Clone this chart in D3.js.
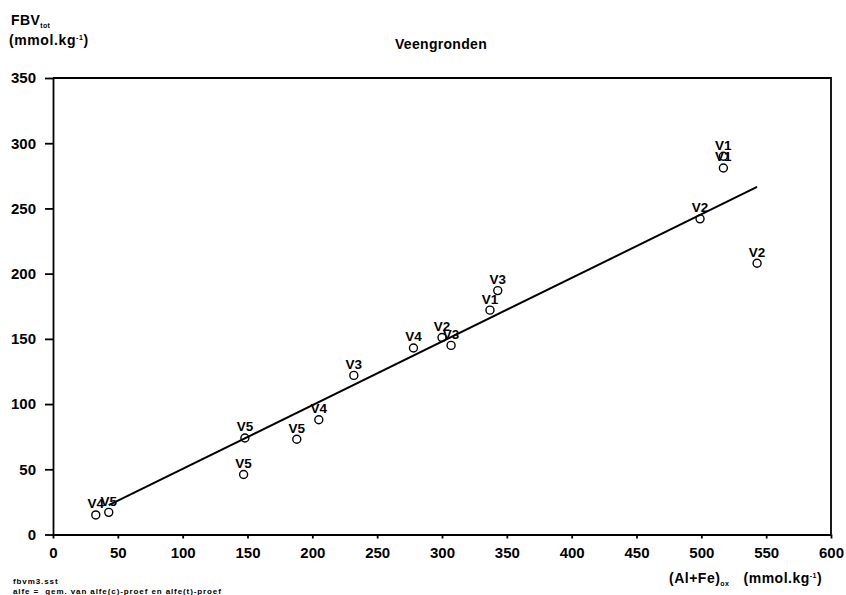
<!DOCTYPE html>
<html>
<head>
<meta charset="utf-8">
<script src="https://cdn.jsdelivr.net/npm/d3@7"></script>
<style>
  body { margin: 0; background: #fff; }
  text { font-family: "Liberation Sans", Arial, sans-serif; font-weight: bold; fill: #000; }
</style>
</head>
<body>
<div id="chart"></div>
<script>
// sample labels and values
const pointLabels = ["V4", "V5", "V5", "V5", "V5", "V4", "V3", "V4", "V2", "V3", "V1", "V3", "V2", "V1", "V1", "V2"];
const alFe = [33, 43, 148, 147, 188, 205, 232, 278, 300, 307, 337, 343, 499, 517, 517, 543];
const fbv = [15, 17, 74, 46, 73, 88, 122, 143, 151, 145, 172, 187, 242, 290, 281, 208];

// regression line
const fitX = [43, 543];
const fitIntercept = 1.5;
const fitSlope = 0.488;

const xTicks = [0, 50, 100, 150, 200, 250, 300, 350, 400, 450, 500, 550, 600];
const yTicks = [0, 50, 100, 150, 200, 250, 300, 350];

const W = 846, H = 595;
const margin = {top: 78, right: 15, bottom: 60.5, left: 53};
const width = W - margin.left - margin.right,
      height = H - margin.top - margin.bottom;

const root = d3.select("#chart").append("svg")
    .attr("width", W)
    .attr("height", H);

const svg = root.append("g")
    .attr("transform", "translate(" + margin.left + "," + margin.top + ")");

const x = d3.scaleLinear().domain([0, 600]).range([0, width]);
const y = d3.scaleLinear().domain([0, 350]).range([height, 0]);

// axes
const xAxis = svg.append("g")
    .attr("transform", "translate(0," + height + ")")
    .call(d3.axisBottom(x).tickValues(xTicks).tickSize(4).tickSizeOuter(0).tickPadding(9));

const yAxis = svg.append("g")
    .call(d3.axisLeft(y).tickValues(yTicks).tickSize(8).tickSizeOuter(0).tickPadding(9));

[xAxis, yAxis].forEach(a => {
    a.selectAll("path, line").attr("stroke", "#000").attr("stroke-width", 1.8);
    a.selectAll("text").style("font-size", "15px").style("font-family", "'Liberation Sans', Arial, sans-serif").style("font-weight", "bold");
});

// frame top and right
svg.append("path")
    .attr("d", "M0," + y(350) + "H" + x(600) + "V" + y(0))
    .attr("fill", "none")
    .attr("stroke", "#000")
    .attr("stroke-width", 1.8);

// fitted line
const line = d3.line()
    .x(d => x(d))
    .y(d => y(fitIntercept + fitSlope * d));

svg.append("path")
    .datum(fitX)
    .attr("d", line)
    .attr("fill", "none")
    .attr("stroke", "#000")
    .attr("stroke-width", 2);

// points
const pts = alFe.map((v, i) => ({x: v, y: fbv[i], label: pointLabels[i]}));

svg.selectAll(".pt")
    .data(pts)
    .enter()
    .append("circle")
    .attr("class", "pt")
    .attr("cx", d => x(d.x))
    .attr("cy", d => y(d.y))
    .attr("r", 4)
    .attr("fill", "none")
    .attr("stroke", "#000")
    .attr("stroke-width", 1.4);

svg.selectAll(".lbl")
    .data(pts)
    .enter()
    .append("text")
    .attr("class", "lbl")
    .attr("x", d => x(d.x))
    .attr("y", d => y(d.y) - 6.5)
    .attr("text-anchor", "middle")
    .style("font-size", "13.5px")
    .text(d => d.label);

// y axis title
const yt = root.append("text").attr("x", 11).attr("y", 25).style("font-size", "14px").style("letter-spacing", "0.4px");
yt.append("tspan").text("FBV");
yt.append("tspan").attr("dy", 3).style("font-size", "7px").text("tot");

const yu = root.append("text").attr("x", 9).attr("y", 45).style("font-size", "14px").style("letter-spacing", "0.6px");
yu.append("tspan").text("(mmol.kg");
yu.append("tspan").attr("dy", -5).style("font-size", "7px").text("-1");
yu.append("tspan").attr("dy", 5).text(")");

// chart title
root.append("text")
    .attr("x", 441)
    .attr("y", 49)
    .attr("text-anchor", "middle")
    .style("font-size", "14px")
    .style("letter-spacing", "0.3px")
    .text("Veengronden");

// x axis title
const xt = root.append("text").attr("x", 669).attr("y", 583).style("font-size", "14px").style("letter-spacing", "0.5px");
xt.append("tspan").text("(Al+Fe)");
xt.append("tspan").attr("dy", 3).style("font-size", "7px").text("ox");
xt.append("tspan").attr("dy", -3).attr("dx", 14).text("(mmol.kg");
xt.append("tspan").attr("dy", -5).style("font-size", "7px").text("-1");
xt.append("tspan").attr("dy", 5).text(")");

// footnote
root.append("text").attr("x", 13).attr("y", 584).style("font-size", "8px").style("letter-spacing", "0.9px").text("fbvm3.sst");
root.append("text").attr("x", 13).attr("y", 593.5).style("font-size", "8px").style("letter-spacing", "0.9px")
    .attr("xml:space", "preserve")
    .text("alfe =  gem. van alfe(c)-proef en alfe(t)-proef");
</script>
</body>
</html>
